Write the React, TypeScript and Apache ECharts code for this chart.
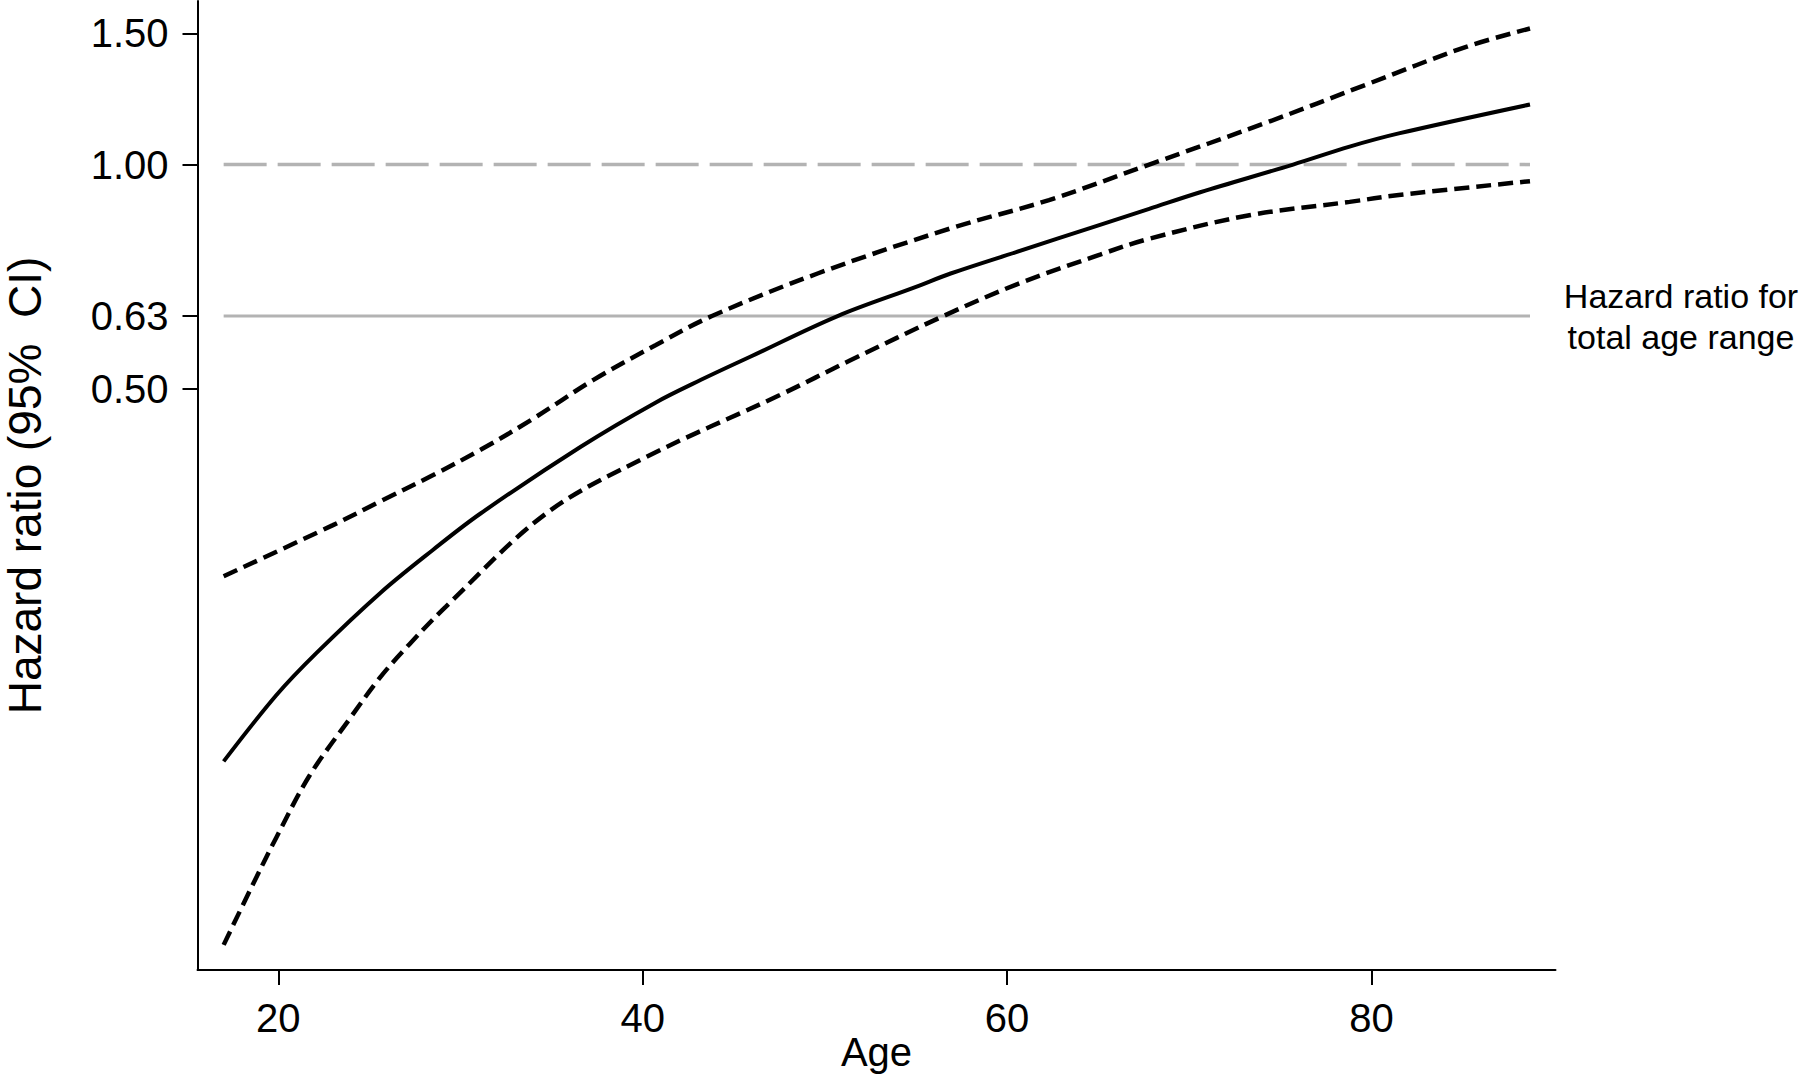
import { useEffect, useRef } from "react";
import * as echarts from "echarts";

// Tick values
const xTickValues = [20, 40, 60, 80];
const yTickValues = [0.5, 0.626, 1.0, 1.5];

// Estimated hazard ratio (solid)
const hrAges = [17.0, 19.9, 22.1, 25.6, 28.5, 31.1, 36.6, 40.7, 43.2, 45.9, 50.7, 55.0, 56.9, 60.5, 65.1, 67.8, 70.6, 75.7, 78.8, 81.5, 88.7];
const hrValues = [0.158, 0.194, 0.221, 0.266, 0.304, 0.34, 0.418, 0.479, 0.514, 0.552, 0.626, 0.685, 0.714, 0.763, 0.83, 0.872, 0.918, 1.0, 1.057, 1.101, 1.204];

// Upper 95% CI (dashed)
const upperAges = [17.0, 23.0, 25.6, 28.5, 31.1, 34.0, 37.3, 40.7, 43.8, 49.6, 56.9, 62.3, 67.8, 74.3, 79.7, 85.2, 88.7];
const upperValues = [0.28, 0.328, 0.353, 0.383, 0.414, 0.456, 0.514, 0.572, 0.626, 0.714, 0.821, 0.896, 1.0, 1.14, 1.28, 1.439, 1.523];

// Lower 95% CI (dashed)
const lowerAges = [17.0, 18.5, 19.9, 21.7, 23.9, 25.6, 27.2, 29.2, 34.7, 40.2, 47.5, 51.4, 56.5, 60.5, 65.1, 67.8, 73.3, 78.8, 81.5, 88.7];
const lowerValues = [0.0896, 0.1067, 0.125, 0.151, 0.18, 0.205, 0.227, 0.255, 0.34, 0.405, 0.49, 0.546, 0.626, 0.69, 0.757, 0.795, 0.855, 0.891, 0.91, 0.95];

// Reference lines
const refAges = [17.0, 88.7];
const nullHR = 1.0;
const totalRangeHR = 0.626;

const annotationLines = ["Hazard ratio for", "total age range"];

const FONT = "'Liberation Sans', Arial, Helvetica, sans-serif";

function pairs(xs: number[], ys: number[]) {
  return xs.map((x, i) => [x, ys[i]]);
}

export default function App() {
  const ref = useRef<HTMLDivElement>(null);

  useEffect(() => {
    if (!ref.current) return;
    const chart = echarts.init(ref.current, undefined, { renderer: "svg" });
    const option: any = {
      animation: false,
      backgroundColor: "#ffffff",
      textStyle: { fontFamily: FONT },
      grid: { left: 197.5, right: 244.5, top: 1, bottom: 104, outerBoundsMode: "none", containLabel: false },
      xAxis: {
        type: "value",
        min: 15.565,
        max: 90.1,
        name: "Age",
        nameLocation: "middle",
        nameGap: 62,
        nameMoveOverlap: false,
        nameTextStyle: { fontSize: 40, color: "#000", fontFamily: FONT },
        axisLine: { show: true, onZero: false, lineStyle: { color: "#000", width: 2 } },
        axisTick: { show: true, customValues: xTickValues, length: 15, lineStyle: { color: "#000", width: 2 } },
        axisLabel: { customValues: xTickValues, fontSize: 40, color: "#000", margin: 28, fontFamily: FONT },
        splitLine: { show: false },
      },
      yAxis: {
        type: "log",
        logBase: 10,
        min: 0.0829,
        max: 1.658,
        name: "Hazard ratio (95%\u00a0 CI)",
        nameLocation: "middle",
        nameGap: 150,
        nameMoveOverlap: false,
        nameTextStyle: { fontSize: 46, color: "#000", fontFamily: FONT },
        axisLine: { show: true, onZero: false, lineStyle: { color: "#000", width: 2 } },
        axisTick: { show: true, customValues: yTickValues, length: 15, lineStyle: { color: "#000", width: 2 } },
        axisLabel: {
          customValues: yTickValues,
          fontSize: 40,
          color: "#000",
          margin: 29,
          padding: [6, 0, 0, 0],
          fontFamily: FONT,
          formatter: (v: number) => Number(v).toFixed(2),
        },
        splitLine: { show: false },
        minorTick: { show: false },
      },
      series: [
        {
          type: "line",
          name: "HR = 1",
          data: pairs(refAges, refAges.map(() => nullHR)),
          symbol: "none",
          lineStyle: { color: "#b3b3b3", width: 3.5, type: [43, 11] },
          z: 1,
        },
        {
          type: "line",
          name: "Total age range HR",
          data: pairs(refAges, refAges.map(() => totalRangeHR)),
          symbol: "none",
          lineStyle: { color: "#b3b3b3", width: 3, type: "solid" },
          z: 1,
        },
        {
          type: "line",
          name: "Upper CI",
          data: pairs(upperAges, upperValues),
          symbol: "none",
          smooth: 0.35,
          lineStyle: { color: "#000", width: 4.5, type: [15, 7], cap: "butt" },
          z: 3,
        },
        {
          type: "line",
          name: "Lower CI",
          data: pairs(lowerAges, lowerValues),
          symbol: "none",
          smooth: 0.35,
          lineStyle: { color: "#000", width: 4.5, type: [15, 7], cap: "butt" },
          z: 3,
        },
        {
          type: "line",
          name: "Hazard ratio",
          data: pairs(hrAges, hrValues),
          symbol: "none",
          smooth: 0.35,
          lineStyle: { color: "#000", width: 4, type: "solid" },
          z: 4,
        },
      ],
      graphic: [
        {
          type: "text",
          x: 1681,
          y: 296,
          style: {
            text: annotationLines[0],
            fontSize: 34,
            fontFamily: FONT,
            fill: "#000",
            align: "center",
            verticalAlign: "middle",
          },
        },
        {
          type: "text",
          x: 1681,
          y: 337,
          style: {
            text: annotationLines[1],
            fontSize: 34,
            fontFamily: FONT,
            fill: "#000",
            align: "center",
            verticalAlign: "middle",
          },
        },
      ],
    };
    chart.setOption(option);
    return () => chart.dispose();
  }, []);

  return (
    <div
      ref={ref}
      style={{ position: "absolute", left: 0, top: 0, width: 1800, height: 1074, background: "#fff" }}
    />
  );
}
